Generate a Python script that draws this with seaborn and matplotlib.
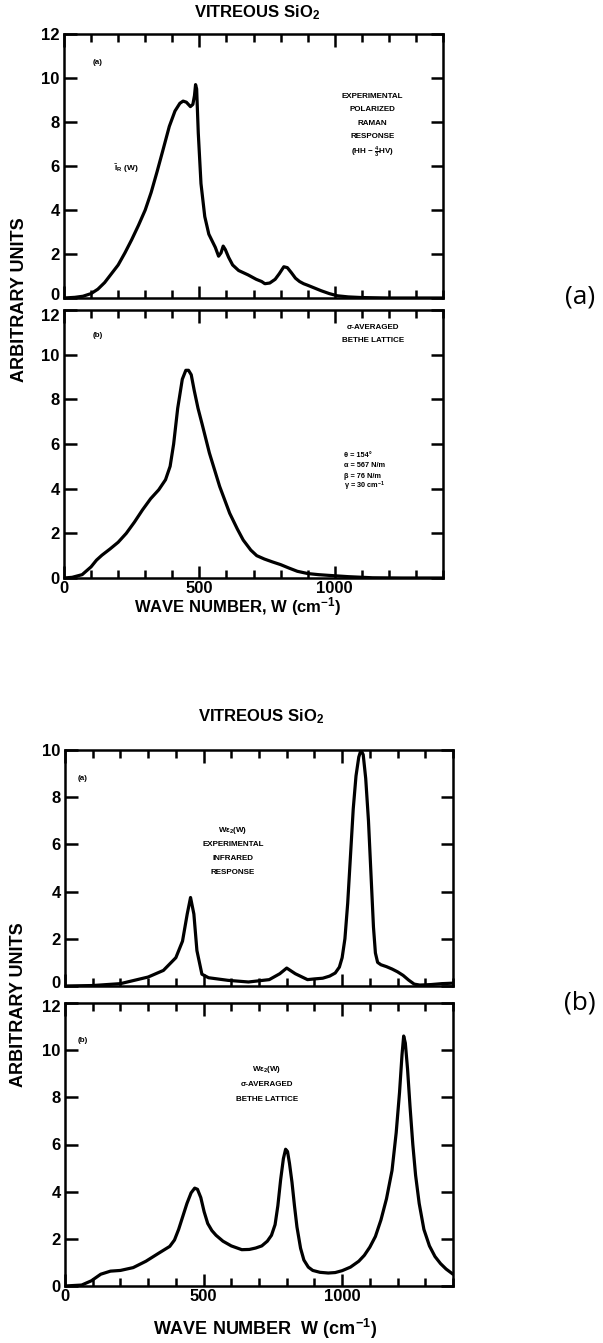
import numpy as np
import pandas as pd
import seaborn as sns
import matplotlib
matplotlib.use("Agg")
import matplotlib.pyplot as plt
from matplotlib.ticker import MultipleLocator
from matplotlib.transforms import ScaledTranslation

# ---------------- data ----------------
# (a) top: experimental polarized Raman response
raman_w = [0, 40, 70, 100, 125, 150, 175, 200, 225, 250, 275, 300, 322, 344, 365, 389,
           410, 428, 440, 452, 467, 476, 482, 486, 490, 496, 506, 520, 535, 559, 571,
           580, 588, 596, 608, 623, 645, 680, 710, 730, 742, 760, 780, 795, 812, 825,
           840, 855, 870, 885, 900, 920, 950, 980, 1010, 1050, 1100, 1150, 1200, 1300, 1400]
raman_i = [0, 0.03, 0.08, 0.2, 0.4, 0.7, 1.1, 1.5, 2.05, 2.65, 3.3, 4.0, 4.8, 5.75, 6.7, 7.8,
           8.5, 8.85, 8.95, 8.9, 8.7, 8.8, 9.2, 9.7, 9.5, 7.5, 5.2, 3.7, 2.9, 2.3, 1.9,
           2.05, 2.36, 2.2, 1.85, 1.5, 1.25, 1.05, 0.85, 0.75, 0.65, 0.68, 0.85, 1.1, 1.42, 1.38,
           1.15, 0.9, 0.75, 0.65, 0.58, 0.48, 0.33, 0.2, 0.1, 0.05, 0.02, 0.01, 0.0, 0.0, 0.0]

# (a) bottom: sigma-averaged Bethe lattice (Raman)
bethe_r_w = [0, 30, 67, 100, 120, 140, 170, 200, 230, 260, 290, 320, 350, 375, 392, 405,
             420, 437, 450, 460, 470, 481, 495, 510, 537, 575, 612, 640, 662, 690, 712, 740,
             770, 800, 830, 862, 900, 940, 975, 1050, 1140, 1250, 1400]
bethe_r_i = [0, 0.03, 0.15, 0.5, 0.8, 1.02, 1.3, 1.6, 2.0, 2.5, 3.05, 3.55, 3.95, 4.4, 5.0,
             6.0, 7.6, 8.9, 9.3, 9.3, 9.1, 8.4, 7.6, 6.9, 5.6, 4.1, 2.9, 2.2, 1.7, 1.25, 1.0,
             0.85, 0.72, 0.6, 0.45, 0.3, 0.2, 0.15, 0.12, 0.06, 0.01, 0.0, 0.0]

# (b) top: experimental infrared response W eps2(W)
ir_w = [0, 100, 200, 300, 355, 400, 424, 441, 453, 465, 476, 494, 518, 588, 662, 737, 775,
        800, 831, 875, 900, 930, 955, 975, 990, 1000, 1010, 1020, 1030, 1040, 1050, 1060,
        1068, 1076, 1085, 1095, 1105, 1113, 1120, 1128, 1140, 1160, 1180, 1200, 1220, 1240,
        1260, 1280, 1320, 1360, 1400]
ir_i = [0, 0.02, 0.1, 0.38, 0.66, 1.2, 1.9, 3.05, 3.75, 3.05, 1.5, 0.5, 0.35, 0.24, 0.17,
        0.27, 0.52, 0.76, 0.52, 0.27, 0.3, 0.33, 0.42, 0.55, 0.8, 1.2, 2.0, 3.5, 5.5, 7.5,
        8.9, 9.7, 10.0, 9.8, 8.8, 7.0, 4.5, 2.5, 1.4, 1.0, 0.9, 0.82, 0.72, 0.6, 0.45, 0.25,
        0.08, 0.04, 0.06, 0.1, 0.12]

# (b) bottom: sigma-averaged Bethe lattice (infrared)
bethe_ir_w = [0, 60, 95, 129, 164, 200, 246, 292, 338, 378, 395, 410, 425, 440, 455, 468,
              478, 490, 502, 515, 530, 545, 570, 600, 638, 665, 688, 710, 730, 745, 758, 768,
              778, 788, 796, 803, 810, 819, 828, 837, 850, 862, 878, 894, 920, 950, 975,
              1000, 1030, 1060, 1080, 1100, 1120, 1140, 1160, 1180, 1195, 1207, 1216, 1222,
              1228, 1236, 1245, 1255, 1265, 1278, 1295, 1315, 1335, 1355, 1375, 1400]
bethe_ir_i = [0, 0.04, 0.22, 0.5, 0.63, 0.66, 0.78, 1.05, 1.39, 1.68, 1.95, 2.4, 2.95, 3.5,
              3.95, 4.15, 4.1, 3.75, 3.15, 2.65, 2.35, 2.15, 1.9, 1.7, 1.54, 1.55, 1.61, 1.7,
              1.9, 2.15, 2.6, 3.4, 4.5, 5.4, 5.8, 5.7, 5.2, 4.4, 3.4, 2.5, 1.6, 1.1, 0.8, 0.66,
              0.58, 0.55, 0.57, 0.65, 0.8, 1.05, 1.3, 1.65, 2.1, 2.8, 3.7, 4.9, 6.5, 8.2, 9.8,
              10.6, 10.3, 9.2, 7.6, 6.0, 4.7, 3.5, 2.4, 1.7, 1.25, 0.95, 0.72, 0.5]

x_major = [0, 500, 1000]
y_ticks_12 = [0, 2, 4, 6, 8, 10, 12]
y_ticks_10 = [0, 2, 4, 6, 8, 10]

title_text = "VITREOUS SiO$_\\mathbf{2}$"

# ---------------- style ----------------
sns.set_style("ticks")
plt.rcParams["font.family"] = ["Liberation Sans", "DejaVu Sans"]
plt.rcParams["font.weight"] = "bold"
plt.rcParams["mathtext.fontset"] = "custom"
plt.rcParams["mathtext.rm"] = "Liberation Sans:bold"
plt.rcParams["mathtext.it"] = "Liberation Sans:bold:italic"
plt.rcParams["mathtext.bf"] = "Liberation Sans:bold"
plt.rcParams["mathtext.default"] = "rm"
for key in ["text.color", "axes.labelcolor", "xtick.color", "ytick.color", "axes.edgecolor"]:
    plt.rcParams[key] = "black"

W, H = 603, 1343
fig = plt.figure(figsize=(W / 100, H / 100), dpi=100)
fig.patch.set_facecolor("white")


def add_ax(left, top, right, bottom):
    return fig.add_axes([left / W, 1 - bottom / H, (right - left) / W, (bottom - top) / H])


def shift_label(label, dy_px):
    label.set_transform(label.get_transform()
                        + ScaledTranslation(0, dy_px / 100, fig.dpi_scale_trans))


def style_ax(ax, ymax, yticks, show_xlabels, fs=12):
    ax.set_xlim(0, 1400)
    ax.set_ylim(0, ymax)
    ax.set_xticks(x_major)
    ax.xaxis.set_minor_locator(MultipleLocator(100))
    ax.set_yticks(yticks)
    ax.tick_params(axis="both", which="both", direction="in", top=True, right=True,
                   width=1.8, colors="black", labelsize=fs)
    ax.tick_params(axis="x", which="major", length=9, pad=2)
    ax.tick_params(axis="x", which="minor", length=6)
    ax.tick_params(axis="y", which="major", length=9, pad=3)
    for lab in ax.get_xticklabels() + ax.get_yticklabels():
        lab.set_fontweight("bold")
        lab.set_color("black")
    if not show_xlabels:
        ax.tick_params(axis="x", labelbottom=False)
    for sp in ax.spines.values():
        sp.set_linewidth(1.8)
        sp.set_color("black")
    ax.set_xlabel("")
    ax.set_ylabel("")
    ax.set_facecolor("white")


def draw(ax, w, i):
    df = pd.DataFrame({"w": w, "i": i})
    sns.lineplot(data=df, x="w", y="i", ax=ax, color="black", linewidth=2.3,
                 estimator=None, sort=False)


small = dict(fontsize=5.8, fontweight="bold", ha="center", va="center", color="black")

# ---------------- figure (a) ----------------
ax1 = add_ax(64, 34, 443, 298)
draw(ax1, raman_w, raman_i)
style_ax(ax1, 12, y_ticks_12, False)
shift_label(ax1.get_yticklabels()[0], 4)
ax1.text(125, 10.7, "(a)", **small)
ax1.text(230, 5.9, r"$\tilde{I}_R$ (W)", fontsize=6, fontweight="bold", ha="center",
         va="center")
for k, line in enumerate(["EXPERIMENTAL", "POLARIZED", "RAMAN", "RESPONSE"]):
    ax1.text(1140, 9.15 - k * 0.6, line, **small)
ax1.text(1140, 6.65, r"(HH $-\ \frac{4}{3}$HV)", **small)

ax2 = add_ax(64, 310, 443, 578)
draw(ax2, bethe_r_w, bethe_r_i)
style_ax(ax2, 12, y_ticks_12, True)
shift_label(ax2.get_yticklabels()[-1], -5)
ax2.text(125, 10.85, "(b)", **small)
ax2.text(1140, 11.2, "σ-AVERAGED", **small)
ax2.text(1140, 10.65, "BETHE LATTICE", **small)
params = ["θ = 154°", "α = 567 N/m", "β = 76 N/m", r"γ = 30 cm$^{-1}$"]
for k, line in enumerate(params):
    ax2.text(1035, 5.5 - k * 0.47, line, fontsize=5.3, fontweight="bold", ha="left",
             va="center")

fig.text(257 / W, 1 - 13 / H, title_text, fontsize=12, fontweight="bold",
         ha="center", va="center")
fig.text(20 / W, 1 - 300 / H, "ARBITRARY UNITS", fontsize=13, fontweight="bold",
         rotation=90, ha="center", va="center")
fig.text(238 / W, 1 - 607 / H, "WAVE NUMBER, W (cm$^{-1}$)", fontsize=12,
         fontweight="bold", ha="center", va="center")
fig.text(580 / W, 1 - 297 / H, "(a)", fontsize=19, family=["Open Sans", "DejaVu Sans"],
         fontweight="normal", ha="center", va="center")

# ---------------- figure (b) ----------------
ax3 = add_ax(65, 750, 453, 986)
draw(ax3, ir_w, ir_i)
style_ax(ax3, 10, y_ticks_10, False)
shift_label(ax3.get_yticklabels()[0], 4)
ax3.text(65, 8.8, "(a)", **small)
ir_lines = [r"W$\varepsilon_2$(W)", "EXPERIMENTAL", "INFRARED", "RESPONSE"]
for k, line in enumerate(ir_lines):
    ax3.text(606, 6.6 - k * 0.6, line, **small)

ax4 = add_ax(65, 1003, 453, 1286)
draw(ax4, bethe_ir_w, bethe_ir_i)
style_ax(ax4, 12, y_ticks_12, True)
shift_label(ax4.get_yticklabels()[-1], -3)
ax4.text(65, 10.4, "(b)", **small)
ir_b_lines = [r"W$\varepsilon_2$(W)", "σ-AVERAGED", "BETHE LATTICE"]
for k, line in enumerate(ir_b_lines):
    ax4.text(729, 9.2 - k * 0.65, line, **small)

fig.text(261 / W, 1 - 717 / H, title_text, fontsize=12, fontweight="bold",
         ha="center", va="center")
fig.text(19 / W, 1 - 1005 / H, "ARBITRARY UNITS", fontsize=13, fontweight="bold",
         rotation=90, ha="center", va="center")
fig.text(265 / W, 1 - 1329 / H, "WAVE NUMBER  W (cm$^{-1}$)", fontsize=13,
         fontweight="bold", ha="center", va="center")
fig.text(580 / W, 1 - 1003 / H, "(b)", fontsize=19, family=["Open Sans", "DejaVu Sans"],
         fontweight="normal", ha="center", va="center")

fig.savefig("out.png", dpi=100, facecolor="white")
